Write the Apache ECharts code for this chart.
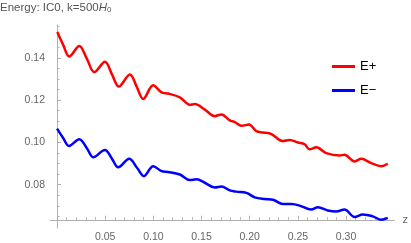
<!DOCTYPE HTML>
<html>
<head>
    <meta http-equiv="content-type" content="text/html;charset=utf-8">
    <script src="https://cdn.jsdelivr.net/npm/echarts@6/dist/echarts.min.js"></script>
    <title>Energy</title>
    <style>
        html, body { margin: 0; padding: 0; background: #fff; }
        #main { width: 411px; height: 243px; }
    </style>
</head>
<body>
<div id="main"></div>
<script>
    // E+ curve
    var zPlus = [0.0003, 0.0065, 0.0127, 0.0231, 0.031, 0.0387, 0.0497, 0.057, 0.0642, 0.0756, 0.083, 0.0894,
        0.0998, 0.1085, 0.1153, 0.1275, 0.1378, 0.1430, 0.1534, 0.1637, 0.1707, 0.1793, 0.1845, 0.1914,
        0.1993, 0.2069, 0.2138, 0.2225, 0.2345, 0.2415, 0.2501, 0.2570, 0.2622, 0.2691, 0.2795, 0.2933,
        0.2984, 0.3088, 0.3158, 0.3261, 0.3365, 0.3433];
    var ePlus = [0.1522, 0.1460, 0.1406, 0.1456, 0.1395, 0.1332, 0.1381, 0.1322, 0.1264, 0.1321, 0.1260, 0.1205,
        0.1270, 0.1236, 0.1231, 0.1213, 0.1178, 0.1181, 0.1155, 0.1124, 0.1132, 0.1104, 0.1096, 0.1078,
        0.1085, 0.1053, 0.1047, 0.1039, 0.1006, 0.1011, 0.0999, 0.0991, 0.0967, 0.0977, 0.0949, 0.0938,
        0.0941, 0.0910, 0.0922, 0.0902, 0.0887, 0.0899];

    // E- curve
    var zMinus = [0.0000, 0.0062, 0.0124, 0.0231, 0.031, 0.0376, 0.0497, 0.057, 0.0635, 0.0749, 0.083, 0.0902,
        0.0998, 0.1085, 0.1153, 0.1275, 0.1378, 0.1448, 0.1534, 0.1637, 0.1707, 0.1793, 0.1862, 0.1966,
        0.2052, 0.2155, 0.2241, 0.2345, 0.2432, 0.2518, 0.2639, 0.2708, 0.2811, 0.2898, 0.2984, 0.3088,
        0.3174, 0.3278, 0.3365, 0.3433];
    var eMinus = [0.1065, 0.1022, 0.0983, 0.1015, 0.0972, 0.0930, 0.0964, 0.0923, 0.0882, 0.0922, 0.0880, 0.0840,
        0.0887, 0.0864, 0.0860, 0.0848, 0.0822, 0.0825, 0.0809, 0.0786, 0.0791, 0.0773, 0.0767, 0.0761,
        0.0740, 0.0732, 0.0729, 0.0708, 0.0708, 0.0701, 0.0682, 0.0693, 0.0678, 0.0673, 0.0682, 0.0647,
        0.0659, 0.0650, 0.0634, 0.0643];

    // ticks
    var xMajor = [0.05, 0.10, 0.15, 0.20, 0.25, 0.30];
    var xMinor = [0.01, 0.02, 0.03, 0.04, 0.06, 0.07, 0.08, 0.09, 0.11, 0.12, 0.13, 0.14, 0.16, 0.17, 0.18, 0.19,
        0.21, 0.22, 0.23, 0.24, 0.26, 0.27, 0.28, 0.29, 0.31, 0.32, 0.33, 0.34];
    var yMajor = [0.08, 0.10, 0.12, 0.14];
    var yMinor = [0.065, 0.07, 0.075, 0.085, 0.09, 0.095, 0.105, 0.11, 0.115, 0.125, 0.13, 0.135, 0.145, 0.15, 0.155];
    var yAxisOrigin = 0.0634; // where the z axis crosses

    var xMin = -0.0073, xMax = 0.3503, yMin = 0.0595, yMax = 0.1555;

    function zip(a, b) {
        var out = [];
        for (var i = 0; i < a.length; i++) out.push([a[i], b[i]]);
        return out;
    }

    var axisColor = '#b0b0b0';
    var labelColor = '#666';

    var myChart = echarts.init(document.getElementById('main'), null, {renderer: 'canvas'});
    var option = {
        animation: false,
        title: {
            text: '{a|Energy: IC0, k=500}{i|H}{s|0}',
            left: 0,
            top: 1,
            padding: 0,
            textStyle: {
                fontWeight: 'normal',
                rich: {
                    a: {fontFamily: 'Liberation Sans', fontSize: 11.5, fontWeight: 'normal', color: '#555'},
                    i: {fontFamily: 'Liberation Sans', fontSize: 11.5, fontWeight: 'normal', color: '#555', fontStyle: 'italic'},
                    s: {fontFamily: 'Liberation Sans', fontSize: 8, fontWeight: 'normal', color: '#555', padding: [5, 0, 0, 0]}
                }
            }
        },
        legend: {
            orient: 'vertical',
            left: 327,
            top: 55,
            itemWidth: 23,
            itemHeight: 3,
            itemGap: 11,
            textStyle: {fontFamily: 'Liberation Sans', fontSize: 13, color: '#000'},
            data: [{name: 'E+', icon: 'rect'}, {name: 'E\u2212', icon: 'rect'}]
        },
        grid: {left: 50, right: 16, top: 25, bottom: 12, containLabel: false},
        xAxis: [{
            type: 'value', min: xMin, max: xMax,
            name: 'z', nameLocation: 'end', nameGap: 8,
            nameTextStyle: {fontFamily: 'Liberation Sans', fontSize: 11, color: labelColor},
            axisLine: {onZero: true, onZeroAxisIndex: 2, lineStyle: {color: axisColor, width: 1}},
            axisTick: {inside: true, length: 4, customValues: xMajor, lineStyle: {color: axisColor}},
            axisLabel: {customValues: xMajor, margin: 4, fontFamily: 'Liberation Sans', fontSize: 10.5, color: labelColor,
                formatter: function (v) { return v.toFixed(2); }},
            splitLine: {show: false}
        }, {
            type: 'value', min: xMin, max: xMax, position: 'bottom',
            axisLine: {show: false, onZero: true, onZeroAxisIndex: 2},
            axisTick: {inside: true, length: 2.5, customValues: xMinor, lineStyle: {color: axisColor}},
            axisLabel: {show: false},
            splitLine: {show: false}
        }],
        yAxis: [{
            type: 'value', min: yMin, max: yMax,
            axisLine: {show: true, onZero: true, lineStyle: {color: axisColor, width: 1}},
            axisTick: {inside: true, length: 4, customValues: yMajor, lineStyle: {color: axisColor}},
            axisLabel: {customValues: yMajor, margin: 5, fontFamily: 'Liberation Sans', fontSize: 10.5, color: labelColor,
                formatter: function (v) { return v.toFixed(2); }},
            splitLine: {show: false}
        }, {
            type: 'value', min: yMin, max: yMax, position: 'left',
            axisLine: {show: false, onZero: true},
            axisTick: {inside: true, length: 2.5, customValues: yMinor, lineStyle: {color: axisColor}},
            axisLabel: {show: false},
            splitLine: {show: false}
        }, {
            // helper axis: its zero sits at the z-axis crossing
            type: 'value', show: false, min: yMin - yAxisOrigin, max: yMax - yAxisOrigin,
            splitLine: {show: false}
        }],
        series: [{
            name: 'E+', type: 'line', data: zip(zPlus, ePlus),
            showSymbol: false, smooth: 0.35,
            lineStyle: {color: '#ff0000', width: 2.5},
            itemStyle: {color: '#ff0000'}
        }, {
            name: 'E\u2212', type: 'line', data: zip(zMinus, eMinus),
            showSymbol: false, smooth: 0.35,
            lineStyle: {color: '#0000ff', width: 2.5},
            itemStyle: {color: '#0000ff'}
        }]
    };
    myChart.setOption(option);
</script>
</body>
</html>
